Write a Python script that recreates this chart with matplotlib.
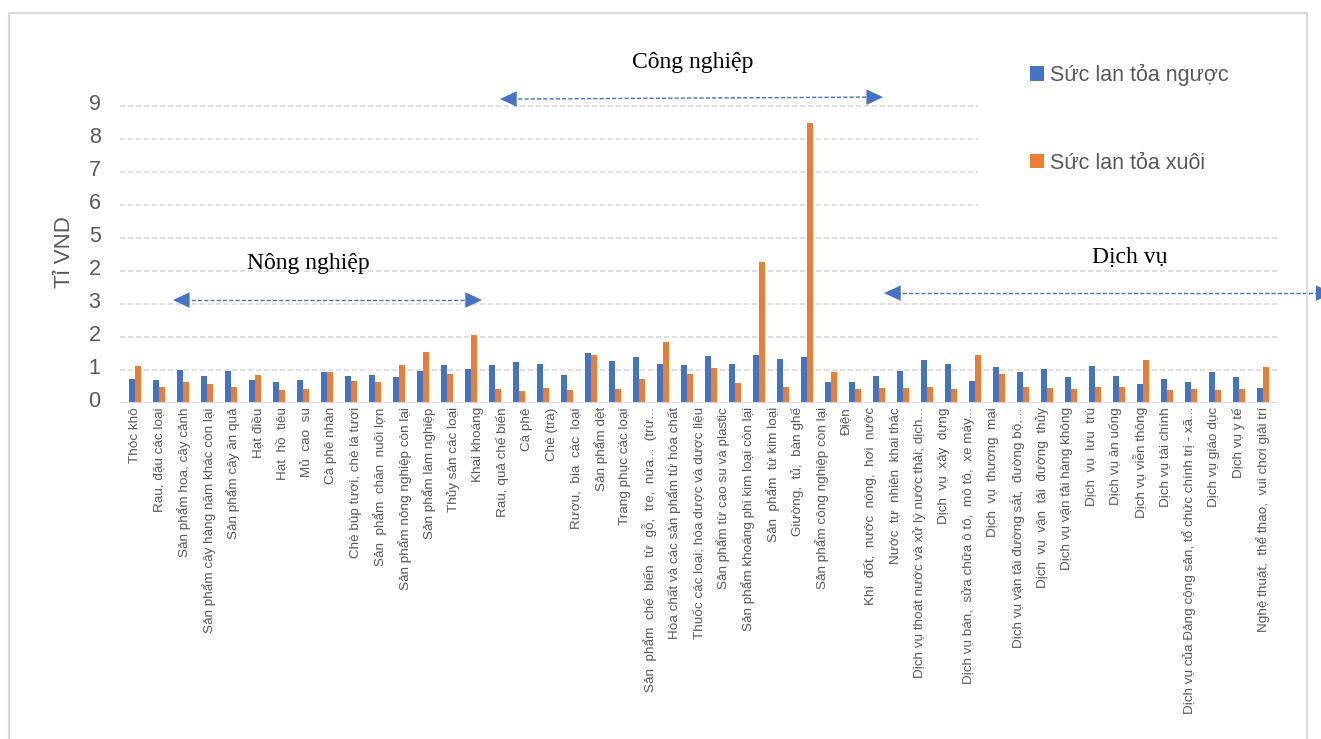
import numpy as np
import matplotlib.pyplot as plt
from matplotlib.patches import Rectangle
from matplotlib.transforms import ScaledTranslation

# Tên ngành (nhãn trục hoành)
nganh = [
    "Thóc khô", "Rau, đậu các loại", "Sản phẩm hoa, cây cảnh",
    "Sản phẩm cây hàng năm khác còn lại", "Sản phẩm cây ăn quả", "Hạt điều",
    "Hạt  hồ  tiêu", "Mủ  cao  su", "Cà phê nhân", "Chè búp tươi, chè lá tươi",
    "Sản  phẩm  chăn  nuôi lợn", "Sản phẩm nông nghiệp còn lại",
    "Sản phẩm lâm nghiệp", "Thủy sản các loại", "Khai khoáng",
    "Rau, quả chế biến", "Cà phê", "Chè (trà)", "Rượu,  bia  các  loại",
    "Sản phẩm dệt", "Trang phục các loại",
    "Sản  phẩm  chế  biến  từ  gỗ,  tre,  nứa...  (trừ...",
    "Hóa chất và các sản phẩm từ hóa chất",
    "Thuốc các loại; hóa dược và dược liệu",
    "Sản phẩm từ cao su và plastic",
    "Sản phẩm khoáng phi kim loại còn lại", "Sản  phẩm  từ kim loại",
    "Giường,  tủ,  bàn ghế", "Sản phẩm công nghiệp còn lại", "Điện",
    "Khí  đốt,  nước  nóng,  hơi  nước", "Nước  tự  nhiên  khai thác",
    "Dịch vụ thoát nước và xử lý nước thải; dịch...", "Dịch  vụ  xây  dựng",
    "Dịch vụ bán,  sửa chữa ô tô,  mô tô,  xe máy...", "Dịch  vụ  thương  mại",
    "Dịch vụ vận tải đường sắt,  đường bộ,...", "Dịch  vụ  vận  tải  đường  thủy",
    "Dịch vụ vận tải hàng không", "Dịch  vụ  lưu  trú", "Dịch vụ ăn uống",
    "Dịch vụ viễn thông", "Dịch vụ tài chính",
    "Dịch vụ của Đảng cộng sản, tổ chức chính trị - xã...", "Dịch vụ giáo dục",
    "Dịch vụ y tế", "Nghệ thuật,  thể thao,  vui chơi giải trí",
]

suc_lan_toa_nguoc = [
    0.74, 0.71, 0.99, 0.81, 0.98, 0.69, 0.64, 0.71, 0.95, 0.81,
    0.86, 0.78, 0.97, 1.15, 1.04, 1.15, 1.23, 1.18, 0.85, 1.52,
    1.27, 1.39, 1.18, 1.15, 1.43, 1.17, 1.44, 1.34, 1.38, 0.65,
    0.64, 0.81, 0.97, 1.31, 1.17, 0.67, 1.10, 0.94, 1.02, 0.79,
    1.11, 0.82, 0.57, 0.72, 0.64, 0.94, 0.78, 0.46,
]
suc_lan_toa_xuoi = [
    1.13, 0.47, 0.63, 0.57, 0.48, 0.84, 0.38, 0.42, 0.93, 0.68,
    0.63, 1.16, 1.56, 0.88, 2.06, 0.41, 0.37, 0.45, 0.38, 1.46,
    0.43, 0.74, 1.86, 0.89, 1.05, 0.61, 4.26, 0.50, 8.48, 0.93,
    0.41, 0.44, 0.44, 0.50, 0.43, 1.46, 0.89, 0.50, 0.45, 0.43,
    0.48, 0.50, 1.30, 0.39, 0.41, 0.39, 0.43, 1.08,
]

y_ticks = [0, 1, 2, 3, 4, 5, 6, 7, 8, 9]
y_tick_labels = ["0", "1", "2", "3", "2", "5", "6", "7", "8", "9"]

blue = "#4472C4"
orange = "#ED7D31"
grey_text = "#595959"
grey_line = "#D9D9D9"

plt.rcParams['font.family'] = ['Liberation Sans', 'DejaVu Sans']

W, H = 1321, 739
fig = plt.figure(figsize=(W / 100, H / 100), dpi=100)
ax = fig.add_axes([120 / W, 1 - 403 / H, (1277 - 120) / W, 330 / H])

x = np.arange(len(suc_lan_toa_nguoc))
b1 = ax.bar(x - 0.13, suc_lan_toa_nguoc, 0.24, color=blue, zorder=3,
            label="Sức lan tỏa ngược")
b2 = ax.bar(x + 0.13, suc_lan_toa_xuoi, 0.24, color=orange, zorder=3,
            label="Sức lan tỏa xuôi")

ax.set_xlim(-0.625, 47.583)
ax.set_ylim(0, 10)

# gridlines: upper ones stop where the legend sits
for v in y_ticks[1:]:
    xmax = 1.0 if v <= 5 else (978 - 120) / (1277 - 120)
    ax.axhline(v, xmin=0, xmax=xmax, color=grey_line, lw=1.2,
               ls=(0, (3, 1.8)), zorder=0)
ax.axhline(0, color=grey_line, lw=1.5, zorder=4)

for s in ax.spines.values():
    s.set_visible(False)

ax.set_yticks(y_ticks, y_tick_labels)
ax.tick_params(axis='y', length=0, pad=14, labelsize=15.5, labelcolor=grey_text)
up = ScaledTranslation(0, 4 / 100, fig.dpi_scale_trans)
for lbl in ax.get_yticklabels():
    lbl.set_transform(lbl.get_transform() + up)

ax.set_xticks(np.linspace(0, len(x) - 1, len(nganh)), nganh, rotation=90)
ax.tick_params(axis='x', length=0, pad=3, labelsize=9.7, labelcolor=grey_text)

fig.text(65 / W, 1 - 252 / H, "Tỉ VND", rotation=90, fontsize=16,
         color=grey_text, ha='center', va='center')

# group labels and arrows
serif = ['Liberation Serif', 'DejaVu Serif']
ax.text(7.21, 4.24, "Nông nghiệp", family=serif, fontsize=17,
        ha='center', va='center')
ax.text(23.25, 10.33, "Công nghiệp", family=serif, fontsize=17,
        ha='center', va='center')
ax.text(41.46, 4.4, "Dịch vụ", family=serif, fontsize=17,
        ha='center', va='center')

def double_arrow(x0, y0, x1, y1):
    ax.plot([x0 + 0.5, x1 - 0.5], [y0, y1], color=blue, lw=1,
            ls=(0, (3, 1.5)), clip_on=False, zorder=5)
    ax.annotate("", xy=(x1, y1), xytext=(x0, y0), annotation_clip=False,
                arrowprops=dict(arrowstyle="<|-|>,head_length=0.6,head_width=0.28",
                                mutation_scale=20, color=blue, lw=0,
                                shrinkA=0, shrinkB=0))

double_arrow(1.58, 3.12, 14.46, 3.12)
double_arrow(15.21, 9.21, 31.17, 9.27)
double_arrow(31.21, 3.33, 49.9, 3.33)

fig.legend(handles=[b1, b2], loc='upper left',
           bbox_to_anchor=(1030 / W, 1 - 64 / H), frameon=False,
           fontsize=15.5, labelcolor=grey_text, handlelength=0.65,
           handleheight=0.65, handletextpad=0.3, labelspacing=3.1,
           borderpad=0, borderaxespad=0)

fig.patches.append(Rectangle((9 / W, -0.05), (1307 - 9) / W, 1.05 - 13 / H,
                             transform=fig.transFigure, fill=False,
                             edgecolor=grey_line, lw=1.5))

fig.savefig("out.png", dpi=100)
